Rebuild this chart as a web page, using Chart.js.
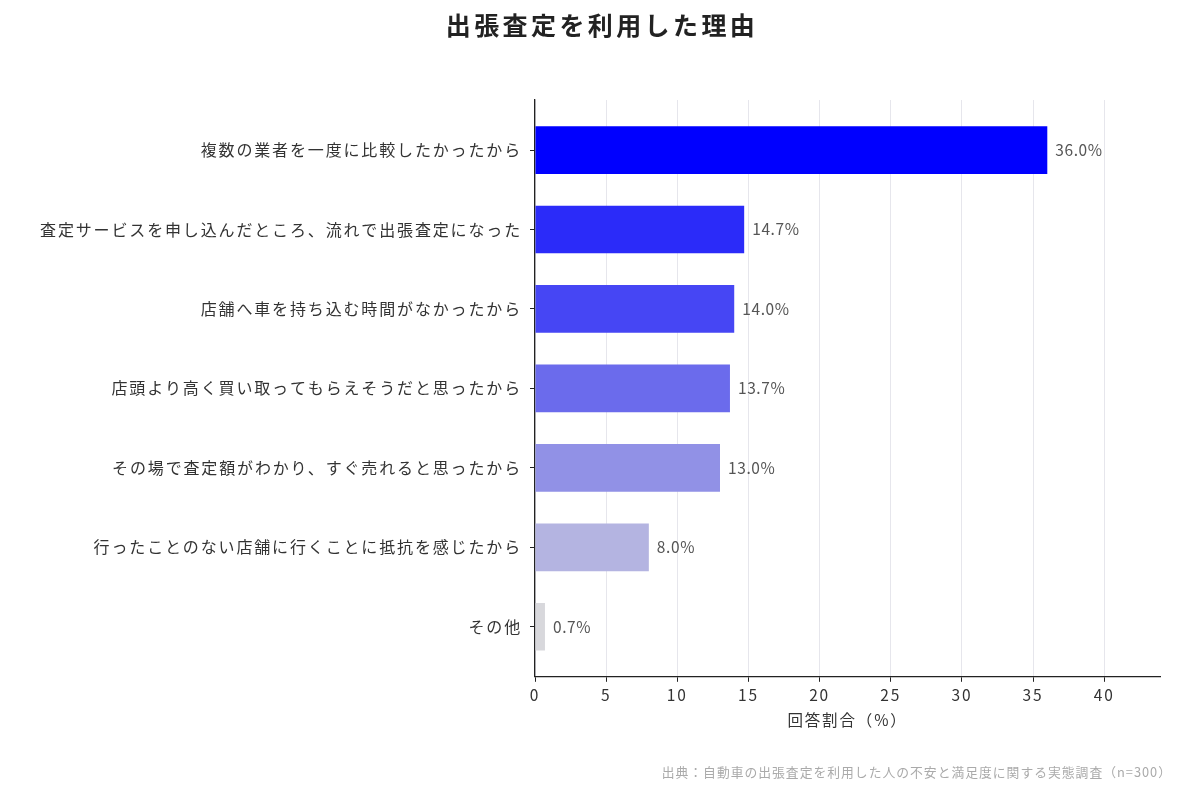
<!DOCTYPE html>
<html lang="ja">
<head>
<meta charset="utf-8">
<title>出張査定を利用した理由</title>
<script src="https://cdn.jsdelivr.net/npm/chart.js@4"></script>
<style>
  html, body { margin: 0; padding: 0; background: #fff; }
  #wrap { width: 1200px; height: 800px; }
</style>
</head>
<body>
<div id="wrap"><canvas id="chart" width="1200" height="800"></canvas></div>
<script>
const reasons = [
  "複数の業者を一度に比較したかったから",
  "査定サービスを申し込んだところ、流れで出張査定になった",
  "店舗へ車を持ち込む時間がなかったから",
  "店頭より高く買い取ってもらえそうだと思ったから",
  "その場で査定額がわかり、すぐ売れると思ったから",
  "行ったことのない店舗に行くことに抵抗を感じたから",
  "その他"
];
const shares = [36.0, 14.7, 14.0, 13.7, 13.0, 8.0, 0.7];
const barColors = ["#0000ff", "#2b2bf9", "#4646f4", "#6b6bec", "#9191e6", "#b4b4e1", "#d8d8dc"];
const xTicks = [0, 5, 10, 15, 20, 25, 30, 35, 40];

const titleText = "出張査定を利用した理由";
const xTitle = "回答割合（%）";
const sourceText = "出典：自動車の出張査定を利用した人の不安と満足度に関する実態調査（n=300）";

const jpFont = "'Noto Sans CJK JP', 'Noto Sans', sans-serif";

// bar chart on a linear index axis so the margins match the original
const points = shares.map((v, i) => ({ x: v, y: i }));

// the original text is set a bit looser than Noto's default
const spacing = {
  id: "spacing",
  beforeDraw(chart) { chart.ctx.letterSpacing = "1.85px"; }
};

const valueLabels = {
  id: "valueLabels",
  afterDatasetsDraw(chart) {
    const ctx = chart.ctx;
    const meta = chart.getDatasetMeta(0);
    ctx.save();
    ctx.letterSpacing = "0.6px";
    ctx.font = "15.5px " + jpFont;
    ctx.fillStyle = "#555";
    ctx.textAlign = "left";
    ctx.textBaseline = "middle";
    meta.data.forEach((bar, i) => {
      ctx.fillText(shares[i].toFixed(1) + "%", bar.x + 8, bar.y);
    });
    ctx.restore();
  }
};

const headAndFoot = {
  id: "headAndFoot",
  afterDraw(chart) {
    const ctx = chart.ctx;
    ctx.save();
    ctx.letterSpacing = "3.4px";
    ctx.font = "bold 25px " + jpFont;
    ctx.fillStyle = "#222";
    ctx.textAlign = "center";
    ctx.textBaseline = "middle";
    ctx.fillText(titleText, 602, 25);

    ctx.letterSpacing = "1px";
    ctx.font = "12.8px " + jpFont;
    ctx.fillStyle = "#aaa";
    ctx.textAlign = "right";
    ctx.fillText(sourceText, 1172, 772);
    ctx.restore();
  }
};

new Chart(document.getElementById("chart"), {
  type: "bar",
  data: {
    datasets: [{
      data: points,
      backgroundColor: barColors,
      borderWidth: 0,
      barPercentage: 0.6,
      categoryPercentage: 1
    }]
  },
  options: {
    indexAxis: "y",
    responsive: false,
    animation: false,
    layout: { padding: { left: 10, right: 40, top: 100, bottom: 71 } },
    plugins: {
      legend: { display: false },
      tooltip: { enabled: false },
      title: { display: false }
    },
    scales: {
      y: {
        type: "linear",
        reverse: true,
        offset: false,
        min: -0.63,
        max: 6.63,
        afterBuildTicks(scale) {
          scale.ticks = reasons.map((r, i) => ({ value: i }));
        },
        afterFit(scale) { scale.width = 525; },
        ticks: {
          callback: (v) => reasons[v],
          color: "#333",
          font: { family: jpFont, size: 16 },
          padding: 8
        },
        grid: { offset: false, drawOnChartArea: false, color: "#222", tickLength: 5 },
        border: { color: "#222", width: 1.3 }
      },
      x: {
        type: "linear",
        min: 0,
        max: 43.92,
        afterBuildTicks(scale) {
          scale.ticks = xTicks.map(v => ({ value: v }));
        },
        ticks: {
          color: "#333",
          font: { family: jpFont, size: 15.5 },
          padding: 4
        },
        grid: { color: "#e6e6ec", tickColor: "#222", tickLength: 5 },
        border: { color: "#222", width: 1.3 },
        title: {
          display: true,
          text: xTitle,
          color: "#333",
          font: { family: jpFont, size: 15.5 },
          padding: { top: 2, bottom: 0 }
        }
      }
    }
  },
  plugins: [spacing, valueLabels, headAndFoot]
});
</script>
</body>
</html>
